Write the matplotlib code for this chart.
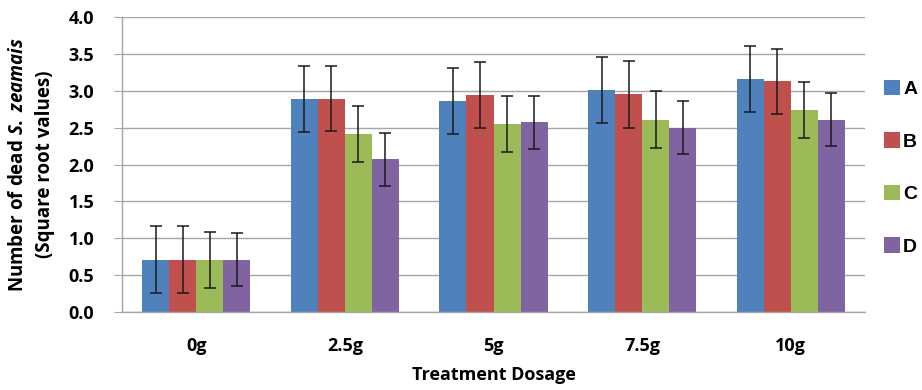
import matplotlib
matplotlib.use("Agg")
import matplotlib.pyplot as plt
import numpy as np

categories = ["0g", "2.5g", "5g", "7.5g", "10g"]
series_names = ["A", "B", "C", "D"]
values_A = [0.71, 2.89, 2.86, 3.01, 3.16]
values_B = [0.71, 2.89, 2.94, 2.95, 3.13]
values_C = [0.71, 2.42, 2.55, 2.61, 2.74]
values_D = [0.71, 2.07, 2.57, 2.50, 2.61]
err_A = [0.45, 0.45, 0.45, 0.45, 0.45]
err_B = [0.45, 0.44, 0.45, 0.45, 0.44]
err_C = [0.38, 0.38, 0.38, 0.38, 0.38]
err_D = [0.36, 0.36, 0.36, 0.36, 0.36]
colors = ["#4F81BD", "#C0504D", "#9BBB59", "#8064A2"]
y_ticks = [0.0, 0.5, 1.0, 1.5, 2.0, 2.5, 3.0, 3.5, 4.0]

plt.rcParams['font.family'] = ['Open Sans', 'DejaVu Sans']
plt.rcParams['mathtext.fontset'] = 'custom'
plt.rcParams['mathtext.it'] = 'Open Sans:italic:bold'
plt.rcParams['mathtext.rm'] = 'Open Sans:bold'

fig = plt.figure(figsize=(9.22, 3.9), dpi=100)
ax = fig.add_axes([122/922, 1-312/390, (865-122)/922, (312-17)/390])

vals = [values_A, values_B, values_C, values_D]
errs = [err_A, err_B, err_C, err_D]
x = np.arange(len(categories))
w = 0.182
handles = []
for i in range(4):
    pos = x + (i - 1.5) * w
    b = ax.bar(pos, vals[i], width=w, color=colors[i], zorder=2, label=series_names[i])
    ax.errorbar(pos, vals[i], yerr=errs[i], fmt='none', ecolor='#1a1a1a',
                elinewidth=1.1, capsize=4, capthick=1.1, zorder=3)
    handles.append(b)

ax.set_xlim(-0.5, len(categories) - 0.5)
ax.set_ylim(0, 4.0)
ax.set_yticks(y_ticks)
ax.set_yticklabels([f"{t:.1f}" for t in y_ticks], fontsize=13, fontweight='bold')
ax.set_xticks(x)
ax.set_xticklabels(categories, fontsize=13, fontweight='bold')
ax.yaxis.grid(True, color='#a6a6a6', linewidth=1.0, zorder=0)
ax.set_axisbelow(True)
for s in ['top', 'right']:
    ax.spines[s].set_visible(False)
for s in ['left', 'bottom']:
    ax.spines[s].set_color('#a6a6a6')
    ax.spines[s].set_linewidth(1.0)
ax.tick_params(axis='y', length=6, color='#a6a6a6', pad=14)
ax.tick_params(axis='x', length=0, pad=18)

ax.set_xlabel("Treatment Dosage", fontsize=13, fontweight='bold', labelpad=8)
ax.set_ylabel("Number of dead $S.$ $zeamais$\n(Square root values)", fontsize=13.5,
              fontweight='bold', labelpad=10, linespacing=1.45)

leg = fig.legend(handles=handles, labels=series_names, loc='upper left',
                 bbox_to_anchor=(876/922, 1-72/390), frameon=False, borderaxespad=0,
                 handlelength=0.85, handleheight=0.85, handletextpad=0.15,
                 labelspacing=1.75, prop={'family': 'Liberation Sans', 'weight': 'bold', 'size': 14})

fig.savefig("out.png", dpi=100)
